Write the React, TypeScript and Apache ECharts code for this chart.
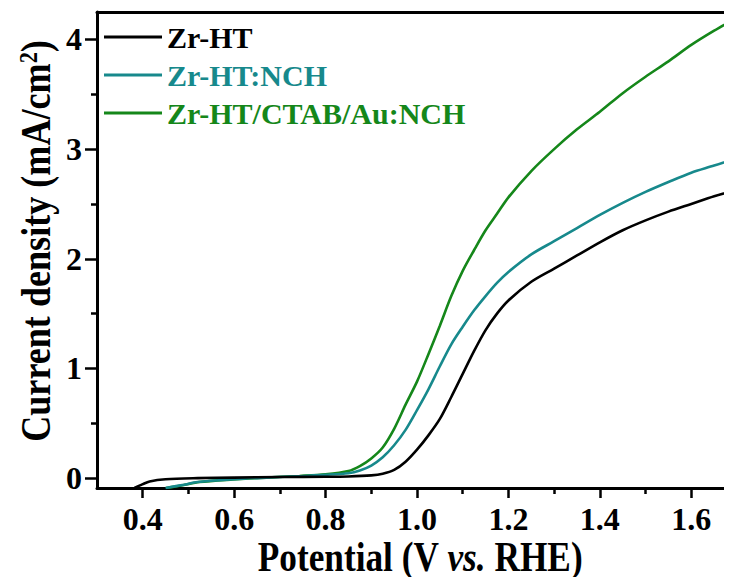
import React, { useEffect, useRef } from "react";
import * as echarts from "echarts";

const seriesNames = ["Zr-HT", "Zr-HT:NCH", "Zr-HT/CTAB/Au:NCH"];
const seriesColors = ["#000000", "#17898c", "#15871a"];

const potentialZr = [0.382, 0.4, 0.415, 0.45, 0.52, 0.6, 0.7, 0.8, 0.85, 0.9, 0.925, 0.95, 0.975, 1.0, 1.025, 1.05, 1.075, 1.1, 1.125, 1.15, 1.175, 1.2, 1.25, 1.3, 1.35, 1.4, 1.45, 1.5, 1.55, 1.6, 1.65, 1.7];
const currentZr = [-0.09, -0.055, -0.03, -0.01, 0.0, 0.005, 0.01, 0.012, 0.015, 0.025, 0.04, 0.075, 0.15, 0.26, 0.39, 0.54, 0.74, 0.95, 1.16, 1.35, 1.5, 1.62, 1.79, 1.91, 2.03, 2.15, 2.26, 2.35, 2.43, 2.5, 2.57, 2.63];

const potentialNCH = [0.45, 0.49, 0.52, 0.6, 0.67, 0.75, 0.8, 0.85, 0.875, 0.9, 0.925, 0.95, 0.975, 1.0, 1.025, 1.05, 1.075, 1.1, 1.125, 1.15, 1.175, 1.2, 1.25, 1.3, 1.35, 1.4, 1.45, 1.5, 1.55, 1.6, 1.65, 1.7];
const currentNCH = [-0.09, -0.06, -0.035, -0.01, 0.005, 0.02, 0.03, 0.045, 0.07, 0.115, 0.19, 0.3, 0.44, 0.62, 0.81, 1.02, 1.22, 1.38, 1.53, 1.66, 1.78, 1.88, 2.04, 2.16, 2.28, 2.4, 2.51, 2.61, 2.7, 2.785, 2.85, 2.92];

const potentialAu = [0.451, 0.487, 0.524, 0.597, 0.67, 0.743, 0.8, 0.85, 0.875, 0.9, 0.925, 0.95, 0.975, 1.0, 1.025, 1.05, 1.075, 1.1, 1.125, 1.15, 1.175, 1.2, 1.25, 1.3, 1.35, 1.4, 1.45, 1.5, 1.55, 1.6, 1.65, 1.7];
const currentAu = [-0.09, -0.065, -0.035, -0.012, 0.005, 0.02, 0.035, 0.065, 0.11, 0.18, 0.28, 0.45, 0.67, 0.88, 1.13, 1.39, 1.66, 1.89, 2.08, 2.26, 2.41, 2.56, 2.8, 3.0, 3.18, 3.34, 3.51, 3.66, 3.8, 3.95, 4.08, 4.2];

const xMajorTicks = [0.4, 0.6, 0.8, 1.0, 1.2, 1.4, 1.6];
const xMinorTicks = [0.5, 0.7, 0.9, 1.1, 1.3, 1.5];
const yMajorTicks = [0, 1, 2, 3, 4];
const yMinorTicks = [0.5, 1.5, 2.5, 3.5];

const xTitle = "Potential (V {it|vs.} RHE)";
const yTitle = "Current density (mA/cm{sup|2})";

const FONT = "'Times New Roman', 'Liberation Serif', serif";

export default function App() {
  const ref = useRef<HTMLDivElement>(null);
  useEffect(() => {
    if (!ref.current) return;
    const chart = echarts.init(ref.current, undefined, { renderer: "svg" });
    const xs = [potentialZr, potentialNCH, potentialAu];
    const ys = [currentZr, currentNCH, currentAu];
    const xMin = 0.3, xMax = 1.7, yMin = -0.09, yMax = 4.25;
    const axisLineStyle = { color: "#000", width: 3 };
    const option: any = {
      animation: false,
      backgroundColor: "#fff",
      grid: { left: 97, top: 12, right: -5, bottom: 97, containLabel: false, outerBoundsMode: "none" },
      legend: {
        orient: "vertical",
        left: 104,
        top: 22,
        padding: 0,
        icon: "rect",
        itemWidth: 58,
        itemHeight: 3,
        itemGap: 8,
        textStyle: { fontSize: 30, fontWeight: "bold", fontFamily: FONT },
        data: seriesNames.map((n, i) => ({ name: n, textStyle: { color: seriesColors[i] } })),
      },
      xAxis: [
        {
          type: "value", min: xMin, max: xMax, position: "bottom",
          axisLine: { onZero: false, lineStyle: axisLineStyle },
          axisTick: { customValues: xMajorTicks, length: 10, lineStyle: { color: "#000", width: 2.5 } },
          axisLabel: {
            customValues: xMajorTicks, fontSize: 32, fontWeight: "bold", fontFamily: FONT, color: "#000", margin: 15,
            formatter: (v: number) => v.toFixed(1),
          },
          splitLine: { show: false },
        },
        {
          type: "value", min: xMin, max: xMax, position: "bottom",
          axisLine: { show: false, onZero: false },
          axisTick: { customValues: xMinorTicks, length: 6, lineStyle: { color: "#000", width: 2.5 } },
          axisLabel: { show: false },
          splitLine: { show: false },
        },
        {
          type: "value", min: xMin, max: xMax, position: "top",
          axisLine: { onZero: false, lineStyle: axisLineStyle },
          axisTick: { show: false },
          axisLabel: { show: false },
          splitLine: { show: false },
        },
      ],
      yAxis: [
        {
          type: "value", min: yMin, max: yMax, position: "left",
          axisLine: { onZero: false, lineStyle: axisLineStyle },
          axisTick: { customValues: yMajorTicks, length: 12, lineStyle: { color: "#000", width: 2.5 } },
          axisLabel: {
            customValues: yMajorTicks, fontSize: 32, fontWeight: "bold", fontFamily: FONT, color: "#000", margin: 15,
          },
          splitLine: { show: false },
        },
        {
          type: "value", min: yMin, max: yMax, position: "left",
          axisLine: { show: false, onZero: false },
          axisTick: { customValues: yMinorTicks, length: 6, lineStyle: { color: "#000", width: 2.5 } },
          axisLabel: { show: false },
          splitLine: { show: false },
        },
      ],
      series: seriesNames.map((n, i) => ({
        name: n,
        type: "line",
        xAxisIndex: 0,
        yAxisIndex: 0,
        data: xs[i].map((x, k) => [x, ys[i][k]]),
        symbol: "none",
        showSymbol: false,
        smooth: 0.3,
        lineStyle: { color: seriesColors[i], width: 2.6 },
        itemStyle: { color: seriesColors[i] },
        z: 5 - i,
      })),
      graphic: [
        {
          type: "text",
          x: 420,
          y: 556,
          scaleX: 0.84,
          style: {
            text: xTitle,
            fontSize: 42,
            fontWeight: "bold",
            fontFamily: FONT,
            fill: "#000",
            align: "center",
            verticalAlign: "middle",
            rich: {
              it: { fontSize: 42, fontWeight: "bold", fontStyle: "italic", fontFamily: FONT, fill: "#000" },
            },
          },
        },
        {
          type: "text",
          x: 36,
          y: 241,
          rotation: Math.PI / 2,
          scaleX: 0.86,
          style: {
            text: yTitle,
            fontSize: 42,
            fontWeight: "bold",
            fontFamily: FONT,
            fill: "#000",
            align: "center",
            verticalAlign: "middle",
            rich: {
              sup: { fontSize: 26, fontWeight: "bold", fontFamily: FONT, fill: "#000", verticalAlign: "top", padding: [0, 0, 14, 0] },
            },
          },
        },
      ],
    };
    chart.setOption(option);
    return () => chart.dispose();
  }, []);
  return <div ref={ref} style={{ width: 732, height: 585, margin: -8 }} />;
}
